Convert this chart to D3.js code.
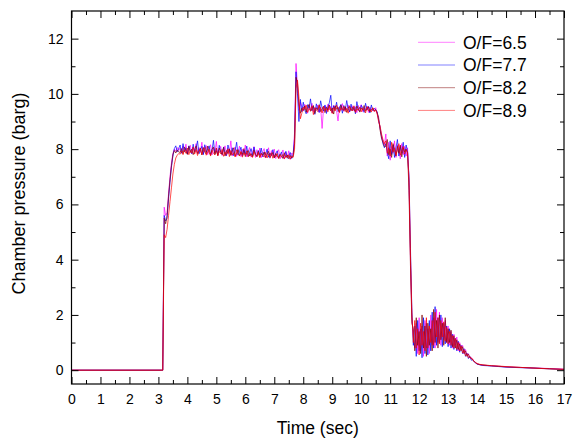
<!DOCTYPE html>
<html><head><meta charset="utf-8">
<script src="https://cdn.jsdelivr.net/npm/d3@7"></script>
<style>
html,body{margin:0;padding:0;background:#fff;}
svg{display:block;font-family:Arial,"Liberation Sans",sans-serif;}
</style></head>
<body><svg id="c" width="573" height="439"></svg>
<script>
// ---------- data ----------
const seriesNames = ["O/F=6.5", "O/F=7.7", "O/F=8.2", "O/F=8.9"];
const seriesColors = ["#ff00ff", "#0000ff", "#800000", "#ff0000"];
const xTicks = [0,1,2,3,4,5,6,7,8,9,10,11,12,13,14,15,16,17];
const yTicks = [0,2,4,6,8,10,12];
// baseline before ignition
const startTime = 0, startValue = 0;
// sampled section: first sample time and sample period (s)
const sampleStart = 3.10, samplePeriod = 0.05;
// tail section sample times
const tailTimes = [14.1, 14.2, 14.35, 14.5, 14.75, 15.0, 15.5, 16.0, 16.5, 17.0];

const of65 = [
0,0,5.9,5.6,5.7,6.4,7.0,7.5,7.85,8.0,7.92,8.06,7.95,
8.05,7.86,8.12,7.92,8.18,7.84,8.02,8.14,7.83,8.08,
7.90,8.20,7.85,8.06,7.88,8.25,7.82,8.01,8.13,7.80,
7.97,8.16,7.79,8.04,7.87,8.28,7.78,7.99,8.10,7.77,
7.95,8.12,7.76,8.03,7.84,8.30,7.75,7.96,8.08,7.74,
7.92,8.11,7.73,8.00,7.81,8.15,7.72,7.94,8.06,7.71,
7.89,8.09,7.70,7.98,7.78,8.04,7.69,7.91,8.02,7.68,
7.86,8.05,7.67,7.95,7.74,8.00,7.66,7.88,7.98,7.65,
7.82,7.97,7.64,7.90,7.71,7.94,7.63,7.86,7.80,
8.6,11.1,10.3,9.4,9.7,
9.55,9.38,9.62,9.45,9.30,9.58,9.41,9.66,9.35,9.50,
9.44,9.60,9.33,9.52,8.75,9.48,9.57,9.36,9.63,9.42,
9.55,9.31,9.59,9.46,9.38,9.02,9.54,9.40,9.65,9.37,
9.51,9.43,9.60,9.34,9.49,9.57,9.39,9.53,9.32,9.58,
9.44,9.61,9.36,9.50,9.42,9.56,9.33,9.52,9.40,9.47,
9.36,9.50,
9.30,9.10,8.75,8.50,8.30,8.15,
8.55,7.75,8.25,7.60,8.10,7.85,8.30,7.70,8.15,7.95,7.65,8.20,7.80,8.10,7.75,8.05,
6.8,4.0,1.9,
1.2,0.8,1.7,0.6,1.9,0.7,1.6,0.5,1.8,0.8,1.5,0.6,2.0,0.9,1.9,0.8,2.2,1.0,2.1,0.9,
1.9,1.1,1.8,1.0,1.6,0.9,1.4,0.8,1.3,0.9,1.2,0.7,1.0,0.8,0.9,0.6,0.75,0.55,0.6,0.45,
0.46,0.38,0.32,0.27,0.23
];
const of77 = [
0,0,5.6,5.4,5.5,6.2,6.8,7.35,7.75,8.02,8.12,7.9,8.03,
8.15,7.85,8.20,7.90,8.05,7.82,8.12,7.95,7.84,8.18,
7.88,8.02,8.30,7.83,7.99,8.10,7.80,8.16,7.89,8.00,
8.12,7.81,7.95,8.32,7.84,8.03,7.78,8.14,7.90,7.82,
8.08,7.86,7.77,8.15,7.96,7.80,8.05,7.76,7.94,8.25,
7.79,7.91,8.07,7.75,7.97,7.82,8.11,7.74,7.89,8.02,
7.76,8.08,7.83,7.73,7.95,7.79,8.04,7.72,7.88,7.80,
8.00,7.71,7.86,7.77,7.98,7.70,7.84,7.94,7.69,7.80,
7.90,7.68,7.78,7.92,7.67,7.76,7.88,7.66,7.81,
8.4,10.8,10.0,9.0,9.8,
9.35,9.70,9.42,9.28,9.61,9.48,9.82,9.39,9.55,9.26,
9.64,9.45,9.33,9.75,9.50,9.38,9.60,9.29,9.52,9.68,
9.95,9.31,9.57,9.44,9.70,9.36,9.49,9.62,9.30,9.58,
9.41,9.76,9.47,9.35,9.63,9.40,9.54,9.28,9.72,9.45,
9.37,9.59,9.50,9.33,9.66,9.42,9.55,9.31,9.60,9.39,
9.48,9.42,
9.35,9.05,8.80,8.45,8.20,8.05,
8.20,7.90,7.65,8.30,7.80,8.15,7.70,8.05,8.35,7.75,8.10,7.85,8.25,7.70,8.15,7.90,
7.0,4.4,2.1,
0.9,1.6,0.5,1.8,0.7,1.5,0.45,1.9,0.6,1.7,0.55,1.8,0.7,2.1,0.8,2.3,0.9,1.9,1.0,2.0,
0.85,1.7,0.95,1.6,0.85,1.5,0.8,1.3,0.75,1.15,0.7,1.05,0.65,0.9,0.6,0.78,0.5,0.62,0.42,0.5,
0.36,0.38,0.3,0.26,0.22
];
const of82 = [
0,0,5.5,5.3,5.6,6.3,6.9,7.4,7.8,7.95,7.86,7.97,7.9,
7.88,8.02,7.84,8.08,7.92,7.81,8.10,7.88,8.00,7.80,
7.96,8.12,7.84,7.93,8.04,7.79,8.06,7.90,7.82,8.11,
7.88,7.78,7.99,8.08,7.81,7.94,7.77,8.04,7.90,7.80,
8.06,7.75,7.95,7.84,8.01,7.77,7.92,8.05,7.74,7.85,
7.98,7.76,7.89,7.81,8.02,7.73,7.87,7.95,7.75,7.84,
7.72,7.97,7.80,7.74,7.92,7.71,7.85,7.78,7.90,7.70,
7.80,7.92,7.69,7.78,7.88,7.68,7.84,7.75,7.67,7.82,
7.73,7.66,7.87,7.70,7.79,7.65,7.77,7.68,7.74,
8.2,10.6,10.4,9.6,9.3,
9.48,9.40,9.56,9.34,9.51,9.62,9.37,9.45,9.58,9.29,
9.50,9.43,9.61,9.36,9.47,9.55,9.32,9.53,9.41,9.60,
9.38,9.49,9.27,9.57,9.44,9.52,9.35,9.59,9.46,9.40,
9.54,9.33,9.48,9.57,9.39,9.51,9.43,9.36,9.56,9.45,
9.34,9.50,9.41,9.58,9.37,9.46,9.53,9.35,9.44,9.49,
9.38,9.43,
9.32,9.15,8.70,8.40,8.25,8.10,
8.10,8.35,7.80,8.00,7.70,8.20,7.95,7.75,8.10,7.85,8.15,7.72,8.05,7.90,8.00,7.85,
6.5,3.8,1.7,
1.5,0.7,1.9,0.9,1.4,0.6,2.0,0.8,1.6,0.5,1.7,0.9,1.5,0.7,2.2,1.0,1.8,0.8,2.0,1.1,
1.7,0.9,1.9,1.0,1.5,1.0,1.45,0.85,1.25,0.8,1.1,0.75,0.95,0.7,0.85,0.6,0.7,0.5,0.58,0.45,
0.44,0.36,0.32,0.27,0.23
];
const of89 = [
0,0,4.9,4.8,5.1,5.6,6.1,6.6,7.1,7.45,7.68,7.78,7.84,
7.82,7.93,7.80,7.97,7.85,8.04,7.80,7.95,7.86,8.08,
7.82,7.98,7.77,7.92,8.02,7.80,7.94,8.06,7.78,7.90,
8.00,7.75,7.96,7.85,7.79,8.04,7.76,7.92,7.83,7.99,
7.74,7.89,7.81,8.01,7.73,7.95,7.79,7.87,7.72,7.98,
7.81,7.75,7.92,7.71,7.87,7.77,7.94,7.72,7.85,7.75,
7.70,7.91,7.79,7.73,7.89,7.69,7.84,7.77,7.71,7.88,
7.68,7.82,7.74,7.87,7.67,7.79,7.72,7.84,7.66,7.78,
7.71,7.81,7.65,7.77,7.69,7.80,7.64,7.75,7.70,
8.0,10.2,10.5,9.9,9.1,
9.30,9.52,9.44,9.60,9.33,9.47,9.39,9.57,9.25,9.50,
9.42,9.36,9.58,9.46,9.31,9.54,9.40,9.48,9.35,9.56,
9.43,9.29,9.51,9.38,9.59,9.45,9.32,9.49,9.41,9.55,
9.36,9.47,9.30,9.53,9.44,9.38,9.57,9.33,9.46,9.40,
9.52,9.35,9.48,9.42,9.31,9.54,9.39,9.45,9.34,9.50,
9.37,9.41,
9.28,9.00,8.85,8.55,8.35,8.20,
8.30,7.85,8.05,7.75,8.25,7.90,8.05,7.80,7.95,8.20,7.78,7.95,8.10,7.82,7.98,7.88,
6.9,4.2,2.0,
1.0,1.8,0.8,1.5,0.55,1.7,0.9,1.4,0.7,1.9,0.8,1.6,1.0,1.8,0.9,2.1,1.2,1.9,0.95,1.8,
1.2,1.75,1.05,1.55,0.95,1.4,0.9,1.25,0.8,1.15,0.75,1.0,0.7,0.88,0.62,0.74,0.52,0.6,0.45,0.5,
0.42,0.4,0.31,0.28,0.24
];
const tail65 = [0.2, 0.18, 0.17, 0.16, 0.14, 0.12, 0.1, 0.08, 0.06, 0.04];
const tail77 = [0.19, 0.17, 0.16, 0.15, 0.13, 0.11, 0.09, 0.07, 0.05, 0.02];
const tail82 = [0.2, 0.19, 0.17, 0.16, 0.14, 0.12, 0.1, 0.08, 0.05, 0.03];
const tail89 = [0.21, 0.19, 0.18, 0.16, 0.15, 0.13, 0.1, 0.07, 0.05, 0.03];

const sampled = [of65, of77, of82, of89];
const tails = [tail65, tail77, tail82, tail89];

// ---------- layout ----------
const L = 71.5, R = 564, T = 11, B = 384;
const svg = d3.select("#c");
const x = d3.scaleLinear().domain([0, 17]).range([L, R]);
const y = d3.scaleLinear().domain([-0.5, 13]).range([B, T]);

svg.append("clipPath").attr("id","clip").append("rect")
  .attr("x", L).attr("y", T).attr("width", R - L).attr("height", B - T);

const line = d3.line().x(d => x(d[0])).y(d => y(d[1]));
const g = svg.append("g").attr("clip-path", "url(#clip)");
sampled.forEach((vals, s) => {
  const pts = [[startTime, startValue]]
    .concat(vals.map((v, i) => [sampleStart + i * samplePeriod, v]))
    .concat(tailTimes.map((t, j) => [t, tails[s][j]]));
  g.append("path").datum(pts)
    .attr("fill", "none").attr("stroke", seriesColors[s])
    .attr("stroke-width", 0.7).attr("stroke-linejoin", "round")
    .attr("d", line);
});

// ---------- axes ----------
const minorX = d3.range(0, 17, 1).map(v => v + 0.5);
const minorY = [1,3,5,7,9,11];
function styleAxis(sel){
  sel.select(".domain").remove();
  sel.selectAll("line").attr("stroke", "#000").attr("stroke-width", 1);
  sel.selectAll("text").attr("fill", "#000").style("font-size", "14px")
     .style("font-family", "Arial, 'Liberation Sans', sans-serif");
}
svg.append("g").attr("transform", `translate(0,${B})`)
  .call(d3.axisBottom(x).tickValues(xTicks).tickFormat(d3.format("d")).tickSize(-7).tickPadding(10)).call(styleAxis);
svg.append("g").attr("transform", `translate(0,${B})`)
  .call(d3.axisBottom(x).tickValues(minorX).tickFormat("").tickSize(-4)).call(styleAxis);
svg.append("g").attr("transform", `translate(0,${T})`)
  .call(d3.axisTop(x).tickValues(xTicks).tickFormat("").tickSize(-7)).call(styleAxis);
svg.append("g").attr("transform", `translate(0,${T})`)
  .call(d3.axisTop(x).tickValues(minorX).tickFormat("").tickSize(-4)).call(styleAxis);
svg.append("g").attr("transform", `translate(${L},0)`)
  .call(d3.axisLeft(y).tickValues(yTicks).tickFormat(d3.format("d")).tickSize(-7).tickPadding(8)).call(styleAxis);
svg.append("g").attr("transform", `translate(${L},0)`)
  .call(d3.axisLeft(y).tickValues(minorY).tickFormat("").tickSize(-4)).call(styleAxis);
svg.append("g").attr("transform", `translate(${R},0)`)
  .call(d3.axisRight(y).tickValues(yTicks).tickFormat("").tickSize(-7)).call(styleAxis);
svg.append("g").attr("transform", `translate(${R},0)`)
  .call(d3.axisRight(y).tickValues(minorY).tickFormat("").tickSize(-4)).call(styleAxis);

svg.append("rect").attr("x", L).attr("y", T).attr("width", R - L).attr("height", B - T)
  .attr("fill", "none").attr("stroke", "#000").attr("stroke-width", 1.2);

// titles
svg.append("text").attr("x", (L + R) / 2).attr("y", 434)
  .attr("text-anchor", "middle").style("font-size", "17.5px").text("Time (sec)");
svg.append("text").attr("transform", `translate(19,${(T + B) / 2 - 4}) rotate(-90)`)
  .attr("text-anchor", "middle").attr("dy", "0.35em").style("font-size", "18px").text("Chamber pressure (barg)");

// legend
const legend = svg.append("g");
seriesNames.forEach((n, i) => {
  const yy = 42.3 + i * 22.7;
  legend.append("line").attr("x1", 418).attr("x2", 455).attr("y1", yy).attr("y2", yy)
    .attr("stroke", seriesColors[i]).attr("stroke-width", 0.5);
  legend.append("text").attr("x", 463).attr("y", yy).attr("dy", "0.36em")
    .style("font-size", "17.5px").text(n);
});
</script></body></html>
